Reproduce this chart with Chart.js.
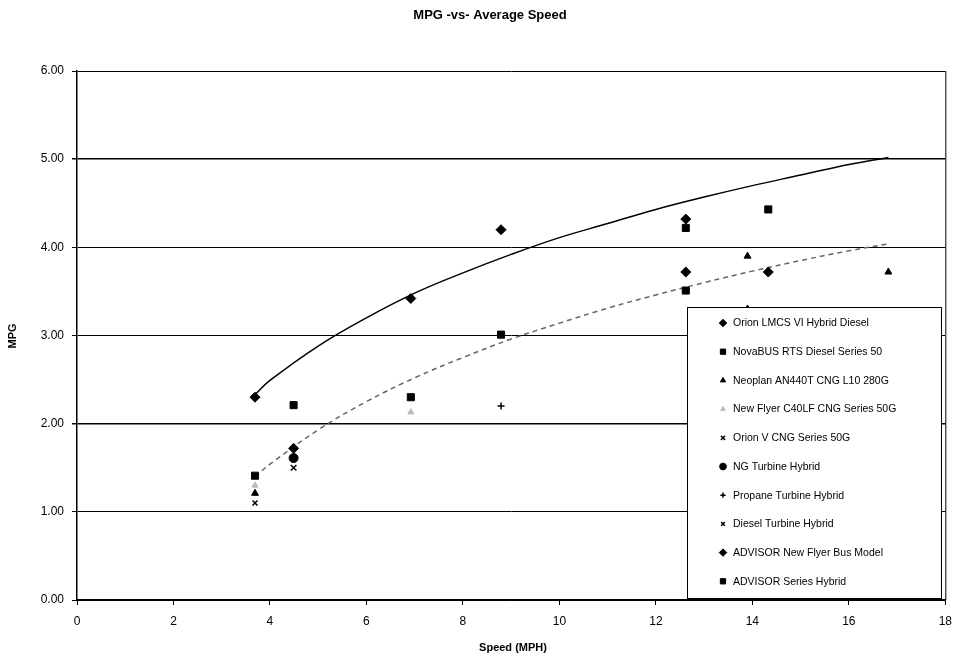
<!DOCTYPE html>
<html>
<head>
<meta charset="utf-8">
<script src="https://cdn.jsdelivr.net/npm/chart.js@4/dist/chart.umd.min.js"></script>
<style>
  html, body { margin: 0; padding: 0; background: #fff; }
  #wrap { width: 961px; height: 660px; }
</style>
</head>
<body>
<div id="wrap"><canvas id="chart" width="961" height="660"></canvas></div>
<script>
// series: [speed (mph), mpg] pairs
const seriesLabels = [
  "Orion LMCS VI Hybrid Diesel",
  "NovaBUS RTS Diesel Series 50",
  "Neoplan AN440T CNG L10 280G",
  "New Flyer C40LF CNG Series 50G",
  "Orion V CNG Series 50G",
  "NG Turbine Hybrid",
  "Propane Turbine Hybrid",
  "Diesel Turbine Hybrid",
  "ADVISOR New Flyer Bus Model",
  "ADVISOR Series Hybrid",
]
const orionLmcs = [[3.69, 2.30], [6.92, 3.42], [8.79, 4.20], [12.62, 4.32]]
const novaBus = [[4.49, 2.21], [6.92, 2.30], [8.79, 3.01], [12.62, 4.22], [14.33, 4.43]]
const neoplan = [[13.90, 3.90], [13.90, 3.30], [16.82, 3.72], [3.69, 1.21]]
const newFlyer = [[3.69, 1.30], [6.92, 2.13]]
const orionV = [[4.49, 1.50]]
const ngTurbine = [[4.49, 1.61]]
const propaneTurbine = [[8.79, 2.20]]
const dieselTurbine = [[3.69, 1.10]]
const advisorNewFlyer = [[4.49, 1.72], [12.62, 3.72], [14.33, 3.72]]
const advisorSeries = [[3.69, 1.41], [12.62, 3.51]]

// trend curves
const trendSpeed = [3.69, 4, 5, 6, 7, 8, 9, 10, 11, 12, 13, 14, 15, 16, 16.82]
const upperTrendMpg = [2.33, 2.49, 2.88, 3.20, 3.48, 3.71, 3.92, 4.11, 4.27, 4.43, 4.57, 4.70, 4.82, 4.94, 5.02]
const lowerTrendMpg = [1.40, 1.54, 1.93, 2.25, 2.52, 2.75, 2.96, 3.14, 3.31, 3.46, 3.60, 3.73, 3.85, 3.96, 4.04]

const seriesData = [orionLmcs, novaBus, neoplan, newFlyer, orionV, ngTurbine, propaneTurbine, dieselTurbine, advisorNewFlyer, advisorSeries]

// marker look per series
const markerStyles = [
  { pointStyle: "rectRot", radius: 5, color: "#000" },
  { pointStyle: "rect", radius: 5, color: "#000" },
  { pointStyle: "triangle", radius: 4, color: "#000" },
  { pointStyle: "triangle", radius: 3.5, color: "#bbb" },
  { pointStyle: "crossRot", radius: 4, color: "#000" },
  { pointStyle: "circle", radius: 4.5, color: "#000" },
  { pointStyle: "cross", radius: 3.5, color: "#000" },
  { pointStyle: "crossRot", radius: 3.5, color: "#000" },
  { pointStyle: "rectRot", radius: 5, color: "#000" },
  { pointStyle: "rect", radius: 5, color: "#000" },
]

const FONT = "'Liberation Sans', Arial, sans-serif"

const scatterSets = seriesData.map((pairs, i) => ({
  type: "scatter",
  label: seriesLabels[i],
  data: pairs.map(([x, y]) => ({ x, y })),
  pointStyle: markerStyles[i].pointStyle,
  pointRadius: markerStyles[i].radius,
  pointBackgroundColor: markerStyles[i].color,
  pointBorderColor: markerStyles[i].color,
  pointBorderWidth: markerStyles[i].pointStyle.startsWith("cross") ? 1.5 : 1,
  order: 1,
}))

const trendSets = [
  {
    type: "line",
    label: "trendUpper",
    data: trendSpeed.map((x, i) => ({ x, y: upperTrendMpg[i] })),
    borderColor: "#000",
    borderWidth: 1.5,
    pointRadius: 0,
    tension: 0.4,
    fill: false,
    order: 2,
  },
  {
    type: "line",
    label: "trendLower",
    data: trendSpeed.map((x, i) => ({ x, y: lowerTrendMpg[i] })),
    borderColor: "#666",
    borderWidth: 1.5,
    borderDash: [5, 4],
    pointRadius: 0,
    tension: 0.4,
    fill: false,
    order: 2,
  },
]

// title, axis titles, plot border and the boxed legend
const decorPlugin = {
  id: "decor",
  afterDraw: (chart) => {
    const ctx = chart.ctx
    const area = chart.chartArea
    ctx.save()

    // plot frame on the right
    ctx.strokeStyle = "#000"
    ctx.lineWidth = 1
    ctx.beginPath()
    ctx.moveTo(area.right + 0.5, area.top)
    ctx.lineTo(area.right + 0.5, area.bottom)
    ctx.stroke()

    ctx.fillStyle = "#000"
    ctx.textAlign = "center"
    ctx.textBaseline = "middle"
    ctx.font = `bold 13px ${FONT}`
    ctx.fillText("MPG -vs- Average Speed", 490, 15)

    ctx.font = `bold 11px ${FONT}`
    ctx.fillText("Speed (MPH)", 513, 648)
    ctx.save()
    ctx.translate(13, 336)
    ctx.rotate(-Math.PI / 2)
    ctx.fillText("MPG", 0, 0)
    ctx.restore()

    // legend box
    const box = { left: 687, top: 307, right: 941, bottom: 598 }
    ctx.fillStyle = "#fff"
    ctx.fillRect(box.left, box.top, box.right - box.left, box.bottom - box.top)
    ctx.strokeStyle = "#000"
    ctx.lineWidth = 1
    ctx.strokeRect(box.left + 0.5, box.top + 0.5, box.right - box.left, box.bottom - box.top)

    ctx.font = `10.5px ${FONT}`
    ctx.textAlign = "left"
    seriesLabels.forEach((label, i) => {
      const y = 323 + i * 28.7
      const st = markerStyles[i]
      ctx.fillStyle = st.color
      ctx.strokeStyle = st.color
      ctx.lineWidth = st.pointStyle.startsWith("cross") ? 1.5 : 1
      Chart.helpers.drawPoint(ctx, { pointStyle: st.pointStyle, radius: st.radius * 0.75, borderWidth: ctx.lineWidth }, 723, y)
      ctx.fillStyle = "#000"
      ctx.fillText(label, 733, y + 0.5)
    })
    ctx.restore()
  },
}

new Chart(document.getElementById("chart"), {
  data: { datasets: [...scatterSets, ...trendSets] },
  options: {
    responsive: false,
    animation: false,
    layout: { padding: { top: 71, right: 10, left: 0, bottom: 0 } },
    plugins: {
      legend: { display: false },
      title: { display: false },
      tooltip: { enabled: false },
    },
    scales: {
      x: {
        type: "linear",
        min: 0,
        max: 18,
        ticks: { stepSize: 2, color: "#000", font: { family: FONT, size: 12 }, padding: 9 },
        grid: { drawOnChartArea: false, drawTicks: true, tickLength: 5, color: "#000" },
        border: { display: true, color: "#000", width: 1.5 },
        afterFit: (scale) => { scale.height = 60 },
      },
      y: {
        type: "linear",
        min: 0,
        max: 6,
        ticks: {
          stepSize: 1,
          color: "#000",
          font: { family: FONT, size: 12 },
          padding: 8,
          callback: (v) => Number(v).toFixed(2),
        },
        grid: {
          color: "#000",
          lineWidth: (c) => (c.tick && (c.tick.value === 2 || c.tick.value === 5) ? 1.5 : 1),
          tickLength: 5,
        },
        border: { display: true, color: "#000", width: 1.5 },
        afterFit: (scale) => { scale.width = 77 },
      },
    },
  },
  plugins: [decorPlugin],
})
</script>
</body>
</html>
